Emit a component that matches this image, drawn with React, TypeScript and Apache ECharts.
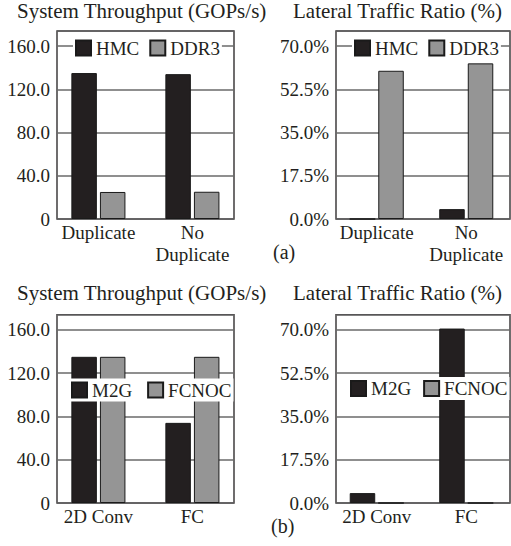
import React, { useEffect, useRef } from "react";
import * as echarts from "echarts";

const topCategories = ["Duplicate", "No\nDuplicate"];
const bottomCategories = ["2D Conv", "FC"];

const hmcThroughput = [135, 134];
const ddr3Throughput = [25, 25.2];
const hmcLateral = [0, 4];
const ddr3Lateral = [60, 63];

const m2gThroughput = [135, 74];
const fcnocThroughput = [135, 135];
const m2gLateral = [4, 70.5];
const fcnocLateral = [0, 0];

const throughputInterval = 40;
const throughputTop = 160;
const lateralInterval = 17.5;
const lateralTop = 70;

const titleLeft = "System Throughput (GOPs/s)";
const titleRight = "Lateral Traffic Ratio (%)";

const FONT = "Liberation Serif";
const INK = "#231f20";
const BLACK = "#231f20";
const GRAY = "#959595";
const GRID_LINE = "#6a6a6a";

function isTick(v: number, step: number, top: number) {
  const r = v / step;
  return Math.abs(r - Math.round(r)) < 1e-6 && v <= top + 1e-6;
}

export default function App() {
  const ref = useRef<HTMLDivElement>(null);
  useEffect(() => {
    if (!ref.current) return;
    const chart = echarts.init(ref.current, undefined, { renderer: "svg" });

    const panels = [
      { bl: 51.4, bw: 188, fl: 57, fw: 177, top: 31, h: 188 },
      { bl: 332, bw: 186, fl: 336, fw: 174, top: 31, h: 188 },
      { bl: 51.4, bw: 188, fl: 57, fw: 177, top: 314.7, h: 188.3 },
      { bl: 332, bw: 186, fl: 336, fw: 174, top: 314.7, h: 188.3 },
    ];
    const isPct = [false, true, false, true];
    const cats = [topCategories, topCategories, bottomCategories, bottomCategories];

    const grids: any[] = [];
    const xAxes: any[] = [];
    const yAxes: any[] = [];
    panels.forEach((p, i) => {
      const pct = isPct[i];
      const step = pct ? lateralInterval : throughputInterval;
      const top = pct ? lateralTop : throughputTop;
      const max = pct ? 76.1 : 173.9;
      grids.push({ left: p.bl, width: p.bw, top: p.top, height: p.h, show: false });
      grids.push({
        left: p.fl, width: p.fw, top: p.top, height: p.h, show: true,
        borderColor: INK, borderWidth: 1.3, backgroundColor: "transparent",
      });
      xAxes.push({
        type: "category", gridIndex: 2 * i, data: cats[i],
        axisLine: { show: false }, axisTick: { show: false },
        axisLabel: {
          interval: 0, hideOverlap: false,
          fontFamily: FONT, fontSize: 19, color: INK, margin: 3, lineHeight: 21.5,
        },
      });
      xAxes.push({ type: "value", gridIndex: 2 * i + 1, min: 0, max: 1, show: false });
      yAxes.push({
        type: "value", gridIndex: 2 * i, min: 0, max, interval: step, show: false,
        splitLine: { show: false },
      });
      yAxes.push({
        type: "value", gridIndex: 2 * i + 1, min: 0, max, interval: step,
        axisLine: { show: false }, axisTick: { show: false },
        splitLine: { show: true, lineStyle: { color: GRID_LINE, width: 1.5 } },
        axisLabel: {
          fontFamily: FONT, fontSize: 19, color: INK, margin: 7, showMaxLabel: false,
          formatter: (v: number) => {
            if (!isTick(v, step, top)) return "";
            if (pct) return v.toFixed(1) + "%";
            return v === 0 ? "0" : v.toFixed(1);
          },
        },
      });
    });

    const bar = (name: string, panel: number, data: number[], color: string) => ({
      type: "bar", name, xAxisIndex: 2 * panel, yAxisIndex: 2 * panel, data,
      barWidth: 25.5, barGap: "12%",
      itemStyle: { color, borderColor: "#1a1a1a", borderWidth: 1 },
    });

    const legendBase = {
      orient: "horizontal", itemWidth: 15, itemHeight: 15, icon: "rect",
      backgroundColor: "#ffffff", selectedMode: false,
      textStyle: { fontFamily: FONT, fontSize: 19, color: INK, lineHeight: 19 },
    };

    const option: any = {
      animation: false,
      backgroundColor: "#ffffff",
      textStyle: { fontFamily: FONT },
      grid: grids,
      xAxis: xAxes,
      yAxis: yAxes,
      legend: [
        { ...legendBase, data: ["HMC", "DDR3"], left: 73, top: 36.5, itemGap: 10, padding: [2, 2] },
        { ...legendBase, data: ["HMC", "DDR3"], left: 352, top: 36.5, itemGap: 10, padding: [2, 2] },
        { ...legendBase, data: ["M2G", "FCNOC"], left: 69, top: 378.5, itemGap: 15, padding: [2, 2] },
        { ...legendBase, data: ["M2G", "FCNOC"], left: 348, top: 377, itemGap: 12, padding: [2, 2] },
      ],
      series: [
        bar("HMC", 0, hmcThroughput, BLACK),
        bar("DDR3", 0, ddr3Throughput, GRAY),
        bar("HMC", 1, hmcLateral, BLACK),
        bar("DDR3", 1, ddr3Lateral, GRAY),
        bar("M2G", 2, m2gThroughput, BLACK),
        bar("FCNOC", 2, fcnocThroughput, GRAY),
        bar("M2G", 3, m2gLateral, BLACK),
        bar("FCNOC", 3, fcnocLateral, GRAY),
      ],
      graphic: [
        { type: "text", left: 17, top: 0, style: { text: titleLeft, font: `21px ${FONT}`, fill: INK } },
        { type: "text", left: 293, top: 0, style: { text: titleRight, font: `21px ${FONT}`, fill: INK } },
        { type: "text", left: 17, top: 282, style: { text: titleLeft, font: `21px ${FONT}`, fill: INK } },
        { type: "text", left: 293, top: 282, style: { text: titleRight, font: `21px ${FONT}`, fill: INK } },
        { type: "text", left: 273, top: 242, style: { text: "(a)", font: `20px ${FONT}`, fill: INK } },
        { type: "text", left: 271, top: 516, style: { text: "(b)", font: `20px ${FONT}`, fill: INK } },
      ],
    };
    chart.setOption(option);
    return () => chart.dispose();
  }, []);
  return (
    <div
      ref={ref}
      style={{ position: "fixed", left: 0, top: 0, width: 511, height: 546, background: "#fff" }}
    />
  );
}
